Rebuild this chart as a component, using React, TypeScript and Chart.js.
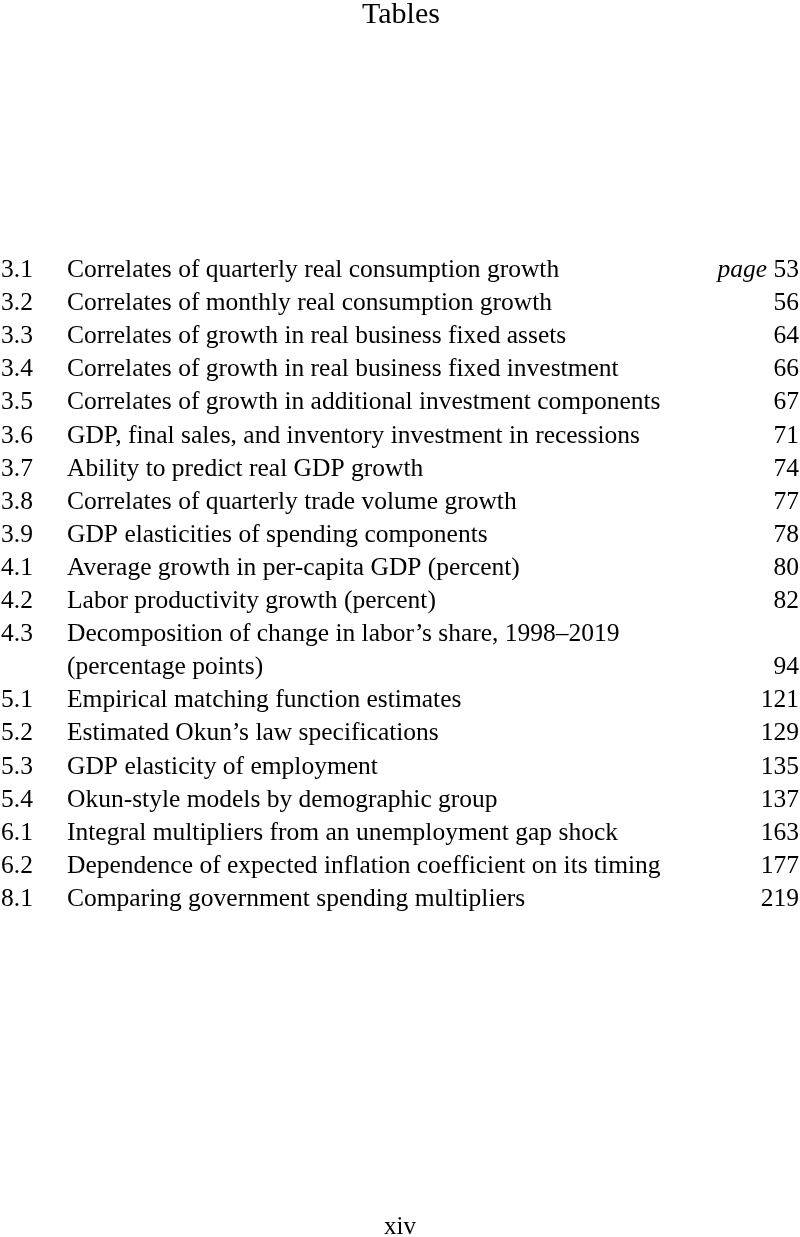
import React, { useEffect, useRef } from "react";
import { Chart, registerables } from "chart.js";

Chart.register(...registerables);

const pageTitle = "Tables";
const folio = "xiv";
const pageLabel = "page";

const tableNumbers = [
  "3.1", "3.2", "3.3", "3.4", "3.5", "3.6", "3.7", "3.8", "3.9",
  "4.1", "4.2", "4.3", "5.1", "5.2", "5.3", "5.4", "6.1", "6.2", "8.1",
];

const tableTitles = [
  "Correlates of quarterly real consumption growth",
  "Correlates of monthly real consumption growth",
  "Correlates of growth in real business fixed assets",
  "Correlates of growth in real business fixed investment",
  "Correlates of growth in additional investment components",
  "GDP, final sales, and inventory investment in recessions",
  "Ability to predict real GDP growth",
  "Correlates of quarterly trade volume growth",
  "GDP elasticities of spending components",
  "Average growth in per-capita GDP (percent)",
  "Labor productivity growth (percent)",
  "Decomposition of change in labor’s share, 1998–2019\n(percentage points)",
  "Empirical matching function estimates",
  "Estimated Okun’s law specifications",
  "GDP elasticity of employment",
  "Okun-style models by demographic group",
  "Integral multipliers from an unemployment gap shock",
  "Dependence of expected inflation coefficient on its timing",
  "Comparing government spending multipliers",
];

const pageNumbers = [
  53, 56, 64, 66, 67, 71, 74, 77, 78, 80, 82, 94, 121, 129, 135, 137, 163, 177, 219,
];

const FONT = '"Liberation Serif", "DejaVu Serif", serif';

export default function App() {
  const canvasRef = useRef<HTMLCanvasElement | null>(null);

  useEffect(() => {
    document.body.style.margin = "0";
    const canvas = canvasRef.current;
    if (!canvas) return;

    const startLines: number[] = [];
    let line = 0;
    tableTitles.forEach((t) => {
      startLines.push(line);
      line += t.split("\n").length;
    });

    const W = 800;
    const H = 1237;
    const firstBaseline = 277;
    const spacing = 33.1;
    const bodySize = 25.5;

    const textPlugin = {
      id: "tocText",
      afterDatasetsDraw(chart: any) {
        const ctx = chart.ctx;
        const meta = chart.getDatasetMeta(0);
        const yScale = chart.scales.y;
        ctx.save();
        ctx.fillStyle = "#000";
        ctx.textBaseline = "alphabetic";

        ctx.font = `30px ${FONT}`;
        ctx.textAlign = "center";
        ctx.fillText(pageTitle, W / 2 + 1, 23);

        meta.data.forEach((pt: any, i: number) => {
          const y = pt.y;
          const lines = tableTitles[i].split("\n");
          ctx.font = `${bodySize}px ${FONT}`;
          ctx.textAlign = "left";
          ctx.fillText(tableNumbers[i], 1, y);
          lines.forEach((l, k) => {
            const ly = yScale.getPixelForValue(startLines[i] + k);
            ctx.fillText(l, 67, ly);
          });
          const lastY = yScale.getPixelForValue(startLines[i] + lines.length - 1);
          ctx.textAlign = "right";
          const num = String(pageNumbers[i]);
          ctx.fillText(num, 799, lastY);
          if (i === 0) {
            const nw = ctx.measureText(" " + num).width;
            ctx.font = `italic ${bodySize}px ${FONT}`;
            ctx.fillText(pageLabel, 799 - nw, lastY);
          }
        });

        ctx.font = `25px ${FONT}`;
        ctx.textAlign = "center";
        ctx.fillText(folio, W / 2, 1234);
        ctx.restore();
      },
    };

    const chart = new Chart(canvas, {
      type: "scatter",
      data: {
        datasets: [
          {
            data: startLines.map((l) => ({ x: 0, y: l })),
            pointRadius: 0,
            showLine: false,
          },
        ],
      },
      options: {
        responsive: false,
        animation: false,
        events: [],
        layout: { padding: 0 },
        plugins: {
          legend: { display: false },
          tooltip: { enabled: false },
          title: { display: false },
        },
        scales: {
          x: { display: false, min: 0, max: W },
          y: {
            display: false,
            reverse: true,
            min: -firstBaseline / spacing,
            max: (H - firstBaseline) / spacing,
          },
        },
      },
      plugins: [textPlugin],
    });

    return () => chart.destroy();
  }, []);

  return (
    <div style={{ width: 800, height: 1237, background: "#fff" }}>
      <canvas ref={canvasRef} width={800} height={1237} style={{ display: "block" }} />
    </div>
  );
}
